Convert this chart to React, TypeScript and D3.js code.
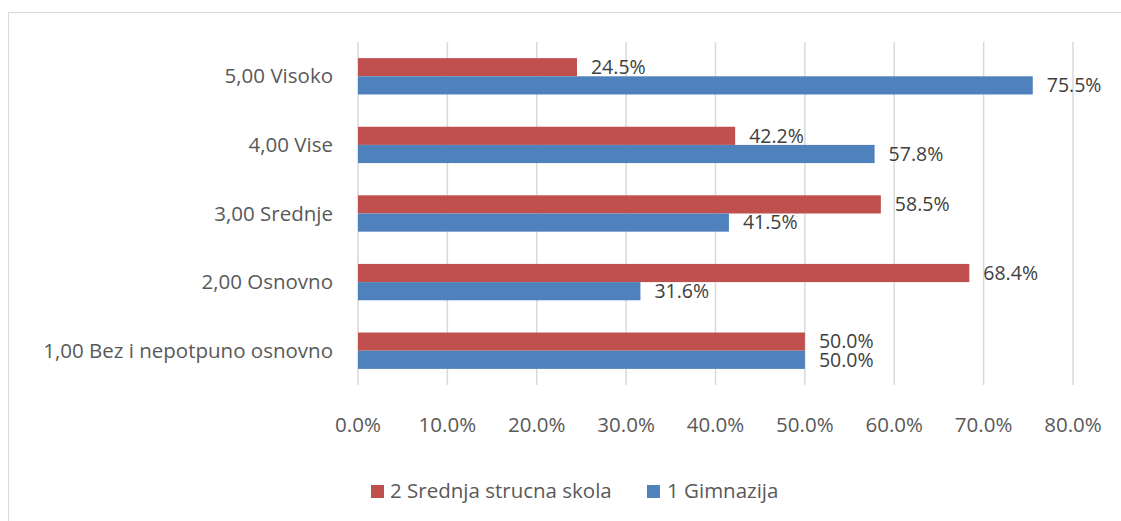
import React from 'react';
import * as d3 from 'd3';

const categories = ['5,00 Visoko', '4,00 Vise', '3,00 Srednje', '2,00 Osnovno', '1,00 Bez i nepotpuno osnovno'];
const srednjaValues = [24.5, 42.2, 58.5, 68.4, 50.0];
const gimnazijaValues = [75.5, 57.8, 41.5, 31.6, 50.0];
const xTicks = [0, 10, 20, 30, 40, 50, 60, 70, 80];
const seriesNames = ['2 Srednja strucna skola', '1 Gimnazija'];
const colors = ['#C0504D', '#4F81BD'];

const W = 1121;
const H = 521;
const FONT = '"Open Sans", sans-serif';
const FS = 20.5;
const LFS = 19.5;

export default function App() {
  const x = d3.scaleLinear().domain([0, 80]).range([358, 1073]);
  const y = d3.scaleBand().domain(categories).range([42, 385]).paddingInner(0.47).paddingOuter(0.235);
  const bh = y.bandwidth() / 2;

  return (
    <svg width={W} height={H} style={{ position: 'absolute', left: 0, top: 0 }}>
      <rect x={8.5} y={12.5} width={W + 40} height={H + 40} fill="#fff" stroke="#D9D9D9" />
      {xTicks.map(t => (
        <line key={t} x1={x(t)} x2={x(t)} y1={42} y2={385} stroke="#D9D9D9" strokeWidth={1.5} />
      ))}
      {categories.map((c, i) => {
        const y0 = y(c)!;
        return (
          <g key={c}>
            <rect x={x(0)} y={y0} width={x(srednjaValues[i]) - x(0)} height={bh} fill={colors[0]} />
            <rect x={x(0)} y={y0 + bh} width={x(gimnazijaValues[i]) - x(0)} height={bh} fill={colors[1]} />
            <text x={x(srednjaValues[i]) + 14} y={y0 + bh / 2} dy="0.35em" fontSize={LFS} fill="#404040" fontFamily={FONT}>
              {srednjaValues[i].toFixed(1)}%
            </text>
            <text x={x(gimnazijaValues[i]) + 14} y={y0 + bh * 1.5} dy="0.35em" fontSize={LFS} fill="#404040" fontFamily={FONT}>
              {gimnazijaValues[i].toFixed(1)}%
            </text>
            <text x={333} y={y0 + bh} dy="0.35em" textAnchor="end" fontSize={FS} fill="#595959" fontFamily={FONT}>
              {c}
            </text>
          </g>
        );
      })}
      {xTicks.map(t => (
        <text key={t} x={x(t)} y={425} dy="0.35em" textAnchor="middle" fontSize={FS} fill="#595959" fontFamily={FONT}>
          {t.toFixed(1)}%
        </text>
      ))}
      <g fontFamily={FONT} fontSize={FS} fill="#595959">
        <rect x={371} y={485} width={13} height={13} fill={colors[0]} />
        <text x={390} y={491} dy="0.35em">{seriesNames[0]}</text>
        <rect x={647} y={485} width={13} height={13} fill={colors[1]} />
        <text x={667} y={491} dy="0.35em">{seriesNames[1]}</text>
      </g>
    </svg>
  );
}
